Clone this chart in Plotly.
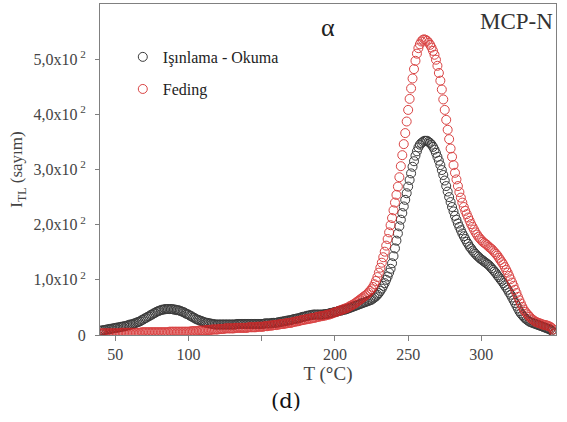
import numpy as np
import plotly.graph_objects as go

# Temperature grid (°C), one reading per degree
temp_c = np.arange(40, 351)

# Glow curve after irradiation and readout
isinlama_okuma = [
    8, 8, 9, 9, 10, 10, 11, 11, 12, 12,
    13, 13, 14, 14, 15, 15, 16, 16, 17, 18,
    19, 19, 20, 21, 22, 23, 24, 25, 27, 28,
    30, 31, 33, 34, 36, 37, 39, 40, 42, 43,
    44, 45, 46, 46, 47, 47, 47, 47, 47, 47,
    46, 46, 45, 45, 44, 43, 42, 41, 39, 38,
    37, 35, 34, 32, 31, 29, 28, 27, 26, 25,
    24, 23, 22, 22, 21, 21, 20, 20, 19, 19,
    19, 19, 19, 19, 19, 19, 19, 19, 19, 19,
    19, 19, 19, 20, 20, 20, 20, 20, 20, 20,
    20, 20, 20, 20, 20, 20, 20, 20, 20, 20,
    20, 20, 21, 21, 21, 21, 21, 22, 22, 22,
    22, 23, 23, 24, 24, 25, 25, 26, 26, 27,
    27, 28, 29, 29, 30, 30, 31, 32, 33, 33,
    34, 35, 35, 36, 36, 37, 37, 37, 37, 37,
    37, 37, 37, 38, 38, 38, 39, 40, 40, 41,
    42, 42, 43, 44, 44, 45, 46, 46, 47, 48,
    49, 50, 51, 52, 53, 54, 55, 56, 57, 58,
    59, 60, 61, 62, 63, 64, 66, 68, 70, 73,
    76, 80, 84, 89, 94, 100, 106, 113, 120, 130,
    143, 157, 171, 184, 197, 209, 221, 233, 245, 257,
    269, 281, 293, 305, 315, 325, 333, 340, 345, 348,
    350, 352, 352, 352, 350, 348, 345, 341, 336, 330,
    323, 316, 308, 299, 290, 280, 270, 260, 250, 241,
    232, 224, 216, 209, 202, 196, 190, 184, 179, 174,
    169, 165, 160, 157, 153, 150, 147, 144, 142, 139,
    137, 135, 133, 131, 129, 127, 124, 121, 118, 115,
    112, 108, 105, 101, 98, 94, 90, 86, 82, 77,
    73, 68, 63, 58, 53, 48, 43, 39, 36, 33,
    30, 28, 26, 24, 23, 22, 21, 20, 19, 18,
    17, 16, 15, 14, 13, 12, 11, 10, 8, 6,
    3,
]

# Glow curve after storage (fading)
feding = [
    3, 3, 3, 3, 3, 3, 3, 3, 3, 3,
    3, 3, 3, 3, 4, 4, 4, 4, 4, 4,
    4, 4, 4, 4, 4, 4, 4, 4, 5, 5,
    5, 5, 5, 5, 5, 5, 5, 5, 5, 5,
    5, 5, 5, 5, 5, 5, 5, 6, 6, 6,
    6, 6, 6, 6, 6, 6, 6, 6, 6, 6,
    6, 6, 7, 7, 7, 7, 7, 8, 8, 8,
    8, 8, 9, 9, 9, 9, 10, 10, 10, 10,
    10, 11, 11, 11, 11, 12, 12, 12, 12, 12,
    12, 12, 13, 13, 13, 13, 13, 13, 13, 13,
    13, 14, 14, 14, 14, 14, 14, 15, 15, 15,
    15, 15, 16, 16, 16, 17, 17, 17, 18, 18,
    18, 19, 19, 20, 20, 20, 21, 21, 22, 22,
    22, 23, 24, 24, 25, 25, 26, 27, 27, 28,
    28, 29, 29, 30, 30, 31, 31, 32, 33, 33,
    34, 34, 35, 35, 36, 37, 37, 38, 39, 40,
    41, 42, 43, 44, 45, 46, 47, 48, 49, 50,
    52, 53, 55, 56, 58, 60, 62, 64, 66, 68,
    70, 72, 74, 77, 80, 83, 87, 92, 98, 105,
    113, 122, 131, 141, 151, 162, 174, 186, 199, 212,
    226, 240, 254, 269, 286, 306, 326, 346, 366, 387,
    408, 428, 447, 465, 482, 497, 510, 520, 527, 532,
    535, 536, 535, 533, 530, 526, 521, 515, 508, 499,
    488, 475, 461, 445, 427, 408, 390, 372, 355, 338,
    323, 308, 294, 282, 270, 259, 249, 240, 232, 225,
    219, 213, 207, 201, 196, 191, 186, 182, 178, 175,
    172, 169, 167, 165, 163, 160, 158, 156, 153, 150,
    147, 144, 140, 136, 132, 128, 123, 118, 113, 107,
    101, 95, 89, 82, 76, 69, 63, 57, 51, 46,
    42, 39, 36, 33, 30, 28, 26, 24, 23, 22,
    21, 20, 19, 18, 18, 17, 16, 15, 13, 10,
    3,
]

x_tickvals = [50, 100, 150, 200, 250, 300]
x_ticktext = ["50", "100", "", "200", "250", "300"]
y_tickvals = [0, 100, 200, 300, 400, 500]
y_ticktext = ["0"] + [f"{v},0x10<sup> 2</sup>" for v in (1, 2, 3, 4, 5)]

SERIF = "Liberation Serif, Times New Roman, serif"
AXIS_GREY = "#808080"

fig = go.Figure()
fig.add_trace(go.Scatter(
    x=temp_c, y=isinlama_okuma, mode="markers", name="Işınlama - Okuma",
    marker=dict(symbol="circle-open", size=9, color="#3a3a3a",
                line=dict(width=1)),
    showlegend=True, legend="legend",
))
fig.add_trace(go.Scatter(
    x=temp_c, y=feding, mode="markers", name="Feding",
    marker=dict(symbol="circle-open", size=9, color="#d42424",
                line=dict(width=1)),
    opacity=0.85,
    showlegend=True, legend="legend2",
))

legend_common = dict(
    xanchor="left", yanchor="middle",
    bgcolor="rgba(0,0,0,0)", borderwidth=0,
    font=dict(family=SERIF, size=16, color="#222222"),
)

fig.update_layout(
    width=567, height=422,
    margin=dict(l=100, r=11, t=4, b=87),
    paper_bgcolor="white", plot_bgcolor="white",
    font=dict(family=SERIF, color="#333333"),
    showlegend=True,
    legend=dict(x=0.05, y=0.84, **legend_common),
    legend2=dict(x=0.05, y=0.743, **legend_common),
    xaxis=dict(
        range=[39.5, 351], tickvals=x_tickvals, ticktext=x_ticktext,
        ticks="outside", ticklen=5, tickcolor=AXIS_GREY,
        showline=True, linecolor=AXIS_GREY, linewidth=1, mirror=True,
        showgrid=False, zeroline=False,
        tickfont=dict(family=SERIF, size=16, color="#444444"),
        title=dict(text="T (<b>°</b>C)", standoff=0,
                   font=dict(family=SERIF, size=19, color="#444444")),
    ),
    yaxis=dict(
        range=[0, 600], tickvals=y_tickvals, ticktext=y_ticktext,
        ticks="outside", ticklen=4, tickcolor=AXIS_GREY,
        ticklabelstandoff=6,
        showline=True, linecolor=AXIS_GREY, linewidth=1, mirror=True,
        showgrid=False, zeroline=False,
        tickfont=dict(family=SERIF, size=16, color="#444444"),
        title=dict(text="I<sub>TL</sub> (sayım)", standoff=6,
                   font=dict(family=SERIF, size=17, color="#444444")),
    ),
    annotations=[
        dict(text="α", x=0.499, y=0.93, xref="paper", yref="paper",
             xanchor="center", yanchor="middle", showarrow=False,
             font=dict(family=SERIF, size=26, color="#222222")),
        dict(text="MCP-N", x=0.998, y=0.99, xref="paper", yref="paper",
             xanchor="right", yanchor="top", showarrow=False,
             font=dict(family=SERIF, size=23, color="#333333")),
        dict(text="(d)", x=0.408, y=-0.2, xref="paper", yref="paper",
             xanchor="center", yanchor="middle", showarrow=False,
             font=dict(family="DejaVu Serif, serif", size=21, color="#111111")),
    ],
)

fig.write_html("out.html")
